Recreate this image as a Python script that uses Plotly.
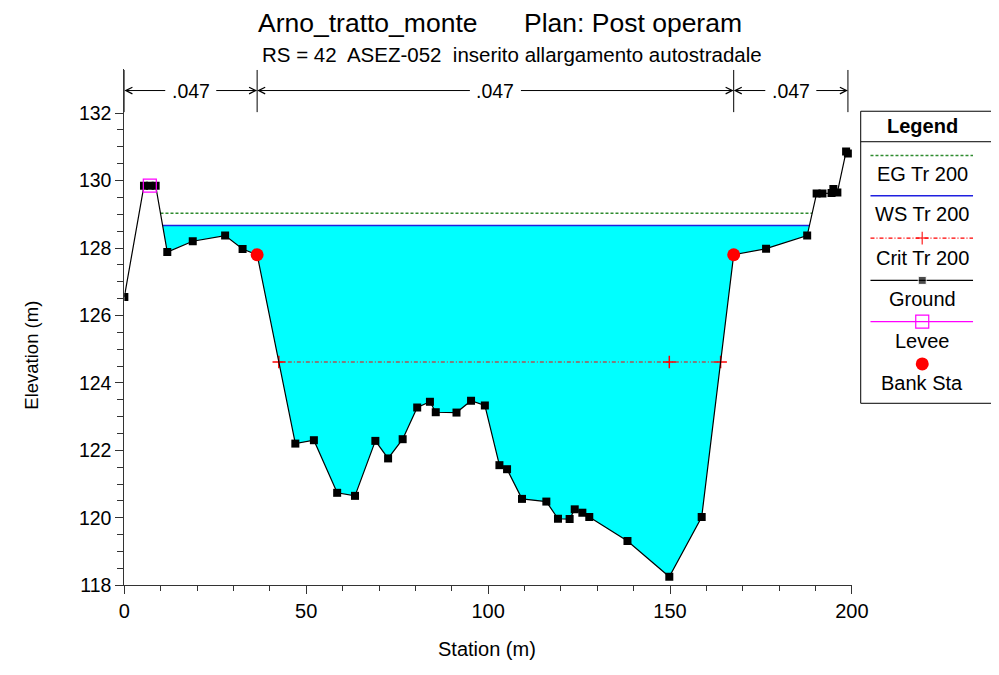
import numpy as np
import plotly.graph_objects as go

# Sezione RS 42
station = [0, 5.4, 7.0, 8.6, 11.8, 18.8, 27.7, 32.5, 36.5, 47.0, 52.1, 58.5, 63.4, 69.0,
           72.5, 76.5, 80.5, 84.0, 85.6, 91.3, 95.3, 99.1, 103.1, 105.2, 109.3, 116.0,
           119.2, 122.4, 123.8, 125.9, 127.8, 138.3, 149.8, 158.7, 167.5, 176.4, 187.7,
           190.3, 191.9, 194.4, 194.9, 196.0, 198.4, 198.9]
elev = [126.55, 129.85, 129.85, 129.85, 127.88, 128.2, 128.37, 127.97, 127.8, 122.2, 122.3,
        120.74, 120.65, 122.28, 121.76, 122.33, 123.27, 123.44, 123.13, 123.12, 123.47,
        123.33, 121.56, 121.44, 120.56, 120.48, 119.97, 119.96, 120.25, 120.15, 120.02,
        119.31, 118.25, 120.02, 127.8, 127.98, 128.37, 129.62, 129.62, 129.63, 129.75,
        129.65, 130.86, 130.8]

ws_elev = 128.67
eg_elev = 129.03
crit_elev = 124.62
levee_sta = [7.0]
levee_elev = [129.85]
bank_sta = [36.5, 167.5]
bank_elev = [127.8, 127.8]
n_values = ['.047', '.047', '.047']

# la pagina ha il margine di 8px del browser: figura piu' piccola e coordinate spostate
OX, OY = 8, 8
W, H = 999 - 2 * OX, 675 - 2 * OY
FONT = 'Liberation Sans, Arial, sans-serif'


def px(x):
    return (x - OX) / W


def py(y):
    return 1 - (y - OY) / H


st = np.array(station)
z = np.array(elev)
k = int(np.argmin(z))


def edges(level):
    i = k
    while z[i] < level:
        i -= 1
    xl = st[i] + (st[i + 1] - st[i]) * (z[i] - level) / (z[i] - z[i + 1])
    j = k
    while z[j] < level:
        j += 1
    xr = st[j - 1] + (st[j] - st[j - 1]) * (level - z[j - 1]) / (z[j] - z[j - 1])
    return xl, xr, i, j


wl, wr, wi, wj = edges(ws_elev)
el, er, _, _ = edges(eg_elev)
cl, cr, _, _ = edges(crit_elev)

fig = go.Figure()

# acqua
fx = [wl] + list(st[wi + 1:wj]) + [wr]
fy = [ws_elev] + list(z[wi + 1:wj]) + [ws_elev]
fig.add_trace(go.Scatter(x=fx, y=fy, fill='toself', fillcolor='#00ffff', mode='none'))
fig.add_trace(go.Scatter(x=[el, er], y=[eg_elev, eg_elev], mode='lines',
                         line=dict(color='#2e8b2e', width=1.5, dash='3px,2px')))
fig.add_trace(go.Scatter(x=[wl, wr], y=[ws_elev, ws_elev], mode='lines',
                         line=dict(color='#2020e0', width=1.5)))
fig.add_trace(go.Scatter(x=[cl, st[k], cr], y=[crit_elev] * 3, mode='lines+markers',
                         line=dict(color='red', width=1.2, dash='4px,2px,1px,2px'),
                         marker=dict(symbol='cross-thin', size=9, line=dict(color='red', width=1.5))))
fig.add_trace(go.Scatter(x=station, y=elev, mode='lines+markers',
                         line=dict(color='black', width=1.2),
                         marker=dict(symbol='square', size=8, color='black')))
fig.add_trace(go.Scatter(x=levee_sta, y=levee_elev, mode='markers',
                         marker=dict(symbol='square-open', size=13, color='#ff00ff', line=dict(width=1.2))))
fig.add_trace(go.Scatter(x=bank_sta, y=bank_elev, mode='markers',
                         marker=dict(symbol='circle', size=13, color='red')))

# legenda disegnata a mano (coordinate in pixel su x2/y2)
lx0, lx1, lxm = 885, 990, 938
fig.add_trace(go.Scatter(x=[lx0, lx1], y=[158, 158], mode='lines', xaxis='x2', yaxis='y2',
                         line=dict(color='#2e8b2e', width=1.5, dash='3px,2px')))
fig.add_trace(go.Scatter(x=[lx0, lx1], y=[199, 199], mode='lines', xaxis='x2', yaxis='y2',
                         line=dict(color='#2020e0', width=1.5)))
fig.add_trace(go.Scatter(x=[lx0, lxm, lx1], y=[242, 242, 242], mode='lines+markers', xaxis='x2', yaxis='y2',
                         line=dict(color='red', width=1.2, dash='4px,2px,1px,2px'),
                         marker=dict(symbol='cross-thin', size=[0, 9, 0], line=dict(color='red', width=1.5))))
fig.add_trace(go.Scatter(x=[lx0, lxm, lx1], y=[285, 285, 285], mode='lines+markers', xaxis='x2', yaxis='y2',
                         line=dict(color='black', width=1.2),
                         marker=dict(symbol='square', size=[0, 8, 0], color='black')))
fig.add_trace(go.Scatter(x=[lx0, lx1], y=[327, 327], mode='lines', xaxis='x2', yaxis='y2',
                         line=dict(color='#ff00ff', width=1.2)))
fig.add_trace(go.Scatter(x=[lxm], y=[327], mode='markers', xaxis='x2', yaxis='y2',
                         marker=dict(symbol='square-open', size=13, color='#ff00ff', line=dict(width=1.2))))
fig.add_trace(go.Scatter(x=[lxm], y=[370], mode='markers', xaxis='x2', yaxis='y2',
                         marker=dict(symbol='circle', size=13, color='red')))

ann = []
leg_labels = [('Legend', 128, True), ('EG Tr 200', 177, False), ('WS Tr 200', 218, False),
              ('Crit Tr 200', 262, False), ('Ground', 304, False), ('Levee', 347, False),
              ('Bank Sta', 389, False)]
for txt, yy, bold in leg_labels:
    ann.append(dict(x=lxm, y=yy, xref='x2', yref='y2', showarrow=False, xanchor='center', yanchor='middle',
                    text='<b>%s</b>' % txt if bold else txt,
                    font=dict(family=FONT, size=20, color='black')))


def label(x, y, txt, size=20, angle=0):
    ann.append(dict(x=px(x), y=py(y), xref='paper', yref='paper', showarrow=False, textangle=angle,
                    xanchor='center', yanchor='middle', text=txt,
                    font=dict(family=FONT, size=size, color='black')))


# titoli
label(370, 23, 'Arno_tratto_monte', 26.5)
label(642, 23, 'Plan: Post operam', 26.5)
label(518, 55, 'RS = 42  ASEZ-052  inserito allargamento autostradale', 20.5)
label(492, 660, 'Station (m)', 20)
label(26, 361, 'Elevation (m)', 18.5, -90)

# valori di Manning
n_bounds = [station[0]] + bank_sta + [station[-1]]
n_y = 132.67
half = 6.6
shapes = []
for b in n_bounds:
    shapes.append(dict(type='line', xref='x', yref='y', x0=b, x1=b, y0=132.03, y1=133.28,
                       line=dict(color='black', width=1)))
for a, b, nv in zip(n_bounds[:-1], n_bounds[1:], n_values):
    c = (a + b) / 2
    ann.append(dict(x=c, y=n_y, xref='x', yref='y', showarrow=False, text=nv,
                    xanchor='center', yanchor='middle',
                    font=dict(family=FONT, size=19.5, color='black')))
    for tip, tail in [(a, c - half), (b, c + half)]:
        ann.append(dict(x=tip, y=n_y, ax=tail, ay=n_y, xref='x', yref='y', axref='x', ayref='y',
                        text='', showarrow=True, arrowhead=5, arrowsize=1.3, arrowwidth=1,
                        arrowcolor='black', standoff=0))

# cornice legenda
shapes.append(dict(type='rect', xref='paper', yref='paper', x0=px(875), x1=px(1010), y0=py(410), y1=py(113),
                   line=dict(color='black', width=1)))
shapes.append(dict(type='line', xref='paper', yref='paper', x0=px(875), x1=px(1010), y0=py(144), y1=py(144),
                   line=dict(color='black', width=1)))

x2_right = OX + W  # bordo destro della figura in pixel di pagina

fig.update_layout(
    width=W, height=H, autosize=False, showlegend=False,
    margin=dict(l=0, r=0, t=0, b=0),
    paper_bgcolor='white', plot_bgcolor='rgba(0,0,0,0)',
    font=dict(family=FONT, size=20, color='black'),
    xaxis=dict(domain=[px(121), px(866)], range=[0, 200], anchor='y', showgrid=False, zeroline=False,
               showline=True, linecolor='#333333', linewidth=1, ticks='outside', ticklen=8,
               tickcolor='#333333', dtick=50, tickfont=dict(size=20),
               minor=dict(dtick=10, ticklen=5, ticks='outside', tickcolor='#333333')),
    yaxis=dict(domain=[py(595), py(70)], range=[118, 133.31], anchor='x', showgrid=False, zeroline=False,
               showline=True, linecolor='#333333', linewidth=1, ticks='outside', ticklen=8,
               tickcolor='#333333', tickvals=list(np.arange(118, 132.1, 2)), tickfont=dict(size=19.5),
               minor=dict(tickvals=list(np.arange(118, 132.1, 0.5)), ticklen=6, ticks='outside',
                          tickcolor='#333333')),
    xaxis2=dict(domain=[px(875), 1], range=[875, x2_right], anchor='y2', visible=False, fixedrange=True),
    yaxis2=dict(domain=[py(410), py(113)], range=[410, 113], anchor='x2', visible=False, fixedrange=True),
    annotations=ann, shapes=shapes,
)

fig.write_html("out.html", config={'displayModeBar': False})
